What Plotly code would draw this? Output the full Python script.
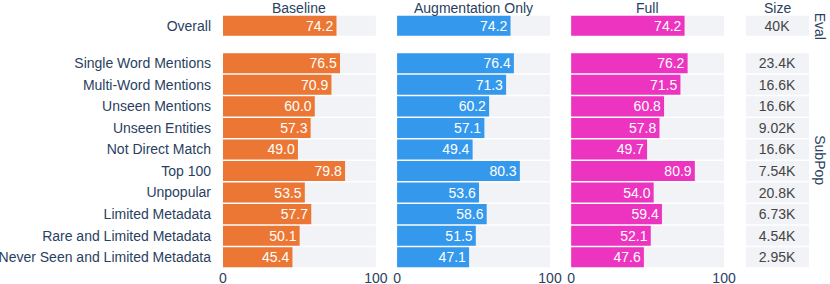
import plotly.graph_objects as go

eval_cats = ["Overall"]
subpop_cats = ["Single Word Mentions", "Multi-Word Mentions", "Unseen Mentions",
               "Unseen Entities", "Not Direct Match", "Top 100", "Unpopular",
               "Limited Metadata", "Rare and Limited Metadata",
               "Never Seen and Limited Metadata"]
models = ["Baseline", "Augmentation Only", "Full"]
eval_scores = {"Baseline": [74.2], "Augmentation Only": [74.2], "Full": [74.2]}
subpop_scores = {
    "Baseline": [76.5, 70.9, 60.0, 57.3, 49.0, 79.8, 53.5, 57.7, 50.1, 45.4],
    "Augmentation Only": [76.4, 71.3, 60.2, 57.1, 49.4, 80.3, 53.6, 58.6, 51.5, 47.1],
    "Full": [76.2, 71.5, 60.8, 57.8, 49.7, 80.9, 54.0, 59.4, 52.1, 47.6],
}
eval_sizes = ["40K"]
subpop_sizes = ["23.4K", "16.6K", "16.6K", "9.02K", "16.6K", "7.54K", "20.8K",
                "6.73K", "4.54K", "2.95K"]
colors = {"Baseline": "#EC7734", "Augmentation Only": "#3499EC", "Full": "#EC34C1"}
group_labels = ["Eval", "SubPop"]

W, H = 830, 284
ml, mr, mt, mb = 223, 21, 15, 16
FONT = "Liberation Sans, Arial, sans-serif"
FS = 14
TXT = "#2a3f5f"
BG = "#f1f3f7"

xdoms = [[0.0, 0.261], [0.297, 0.558], [0.594, 0.855], [0.892, 1.0]]
ph = H - mt - mb
pw = W - ml - mr
eval_dom = [1 - 21.5 / ph, 1.0]
sub_dom = [0.0, (H - mb - 52.5) / ph]

fig = go.Figure()
layout = dict(
    width=W, height=H, margin=dict(l=ml, r=mr, t=mt, b=mb, autoexpand=False),
    plot_bgcolor="white", paper_bgcolor="white",
    barmode="overlay", bargap=0.07, showlegend=False,
    font=dict(family=FONT, size=FS, color=TXT),
)

rows = [(eval_cats, eval_scores, eval_sizes, eval_dom),
        (subpop_cats, subpop_scores, subpop_sizes, sub_dom)]
ax = 0
annotations = []
for r, (cats, scores, sizes, ydom) in enumerate(rows):
    for c in range(4):
        ax += 1
        xa = "x" if ax == 1 else f"x{ax}"
        ya = "y" if ax == 1 else f"y{ax}"
        if c < 3:
            m = models[c]
            fig.add_trace(go.Bar(y=cats, x=[100] * len(cats), orientation="h",
                                 marker=dict(color=BG, line=dict(width=0)),
                                 hoverinfo="skip", xaxis=xa, yaxis=ya))
            fig.add_trace(go.Bar(y=cats, x=scores[m], orientation="h",
                                 marker=dict(color=colors[m], line=dict(width=0)),
                                 text=[f"{v:.1f}" for v in scores[m]],
                                 textposition="inside", insidetextanchor="end",
                                 constraintext="none",
                                 textfont=dict(color="white", size=FS, family=FONT),
                                 xaxis=xa, yaxis=ya))
            rng = [0, 100]
        else:
            fig.add_trace(go.Bar(y=cats, x=[1] * len(cats), orientation="h",
                                 marker=dict(color=BG, line=dict(width=0)),
                                 text=sizes, textposition="inside",
                                 insidetextanchor="middle", constraintext="none",
                                 textfont=dict(color="#444444", size=FS, family=FONT),
                                 xaxis=xa, yaxis=ya))
            rng = [0, 1]
        show_x = (r == 1 and c < 3)
        layout["xaxis" if ax == 1 else f"xaxis{ax}"] = dict(
            domain=xdoms[c], range=rng, anchor=ya,
            showgrid=False, zeroline=False, showline=False, automargin=False,
            showticklabels=show_x, tickvals=[0, 100] if show_x else [],
            ticks="", tickfont=dict(size=FS, color=TXT, family=FONT),
            fixedrange=True,
        )
        layout["yaxis" if ax == 1 else f"yaxis{ax}"] = dict(
            domain=ydom, anchor=xa, autorange="reversed",
            showgrid=False, zeroline=False, showline=False, automargin=False,
            showticklabels=(c == 0), ticks="", ticklabelstandoff=11,
            tickfont=dict(size=FS, color=TXT, family=FONT),
            categoryorder="array", categoryarray=cats,
        )

titles = models + ["Size"]
for c, t in enumerate(titles):
    annotations.append(dict(text=t, x=(xdoms[c][0] + xdoms[c][1]) / 2, y=1.0,
                            xref="paper", yref="paper", xanchor="center",
                            yanchor="bottom", yshift=-3, showarrow=False,
                            font=dict(size=FS, color=TXT, family=FONT)))
for lab, dom in zip(group_labels, [eval_dom, sub_dom]):
    annotations.append(dict(text=lab, x=1.0 + 11 / pw, y=(dom[0] + dom[1]) / 2,
                            xref="paper", yref="paper", xanchor="center",
                            yanchor="middle", textangle=90,
                            showarrow=False,
                            font=dict(size=FS, color=TXT, family=FONT)))
layout["annotations"] = annotations
fig.update_layout(**layout)
fig.write_html("out.html", config={"displayModeBar": False},
               post_script="document.body.style.margin='0';document.body.style.overflow='hidden';")
